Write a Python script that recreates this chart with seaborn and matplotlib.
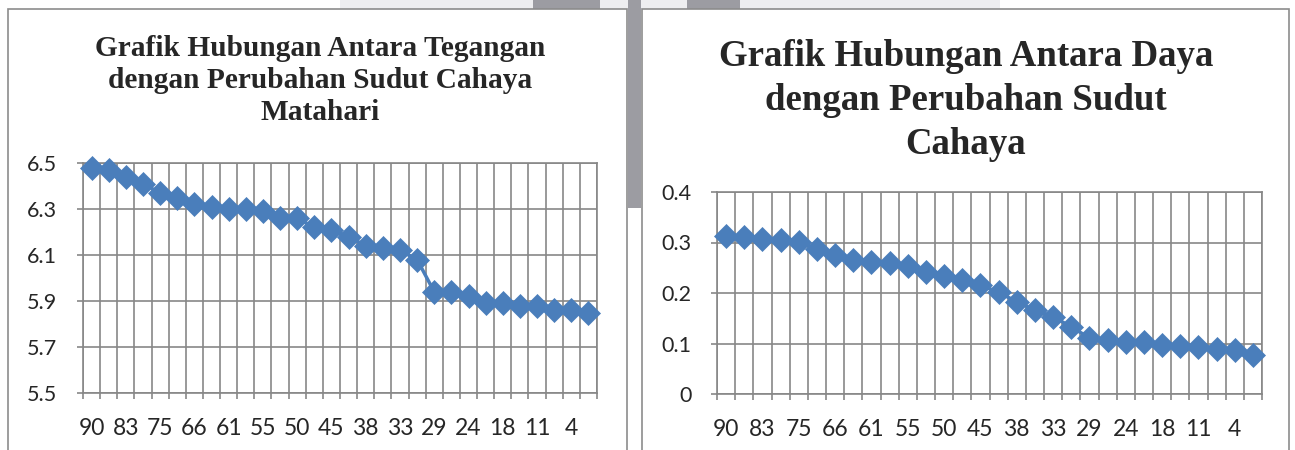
# import libraries and packages
import numpy as np
import seaborn as sns
import matplotlib.pyplot as plt
import pandas as pd
from matplotlib.patches import Rectangle

# sudut cahaya matahari (only every other label is printed on the axis)
sudut = [90, 87, 83, 79, 75, 70, 66, 63, 61, 58, 55, 52, 50, 47, 45,
         41, 38, 35, 33, 31, 29, 26, 24, 21, 18, 14, 11, 7, 4, 1]
# tegangan (V)
tegangan = [6.48, 6.47, 6.44, 6.41, 6.37, 6.35, 6.32, 6.31, 6.30, 6.30,
            6.29, 6.26, 6.26, 6.22, 6.21, 6.18, 6.14, 6.13, 6.12, 6.08,
            5.94, 5.94, 5.92, 5.89, 5.89, 5.88, 5.88, 5.86, 5.86, 5.85]
# daya (W)
daya = [0.313, 0.311, 0.307, 0.304, 0.301, 0.288, 0.276, 0.266, 0.261, 0.259,
        0.254, 0.241, 0.234, 0.226, 0.216, 0.201, 0.183, 0.166, 0.153, 0.133,
        0.111, 0.106, 0.103, 0.102, 0.098, 0.096, 0.093, 0.090, 0.088, 0.078]

judul_kiri = "Grafik Hubungan Antara Tegangan\ndengan Perubahan Sudut Cahaya\nMatahari"
judul_kanan = "Grafik Hubungan Antara Daya\ndengan Perubahan Sudut\nCahaya"
yticks_kiri = [5.5, 5.7, 5.9, 6.1, 6.3, 6.5]
ylabels_kiri = ["5.5", "5.7", "5.9", "6.1", "6.3", "6.5"]
yticks_kanan = [0, 0.1, 0.2, 0.3, 0.4]
ylabels_kanan = ["0", "0.1", "0.2", "0.3", "0.4"]

df = pd.DataFrame({'pos': np.arange(len(sudut)), 'sudut': sudut,
                   'tegangan': tegangan, 'daya': daya})

BIRU = '#4a7ebb'
ABU = '#878787'
W, H = 1295, 450

sns.set_style("white")
plt.rcParams['font.family'] = ['Lato', 'DejaVu Sans']

fig = plt.figure(figsize=(W / 100, H / 100), dpi=100)


def kotak(x0, y0, x1, y1):
    # pixel box (top-left origin) -> figure fraction rect
    return [x0 / W, 1 - y1 / H, (x1 - x0) / W, (y1 - y0) / H]


# background pieces of the scanned page
for x0, y0, x1, y1, c in [(340, 0, 1000, 9, '#eeeef0'), (533, 0, 600, 9, '#9c9ca2'),
                          (687, 0, 740, 9, '#9c9ca2'), (628, 0, 641, 208, '#9c9ca2')]:
    r = kotak(x0, y0, x1, y1)
    fig.add_artist(Rectangle((r[0], r[1]), r[2], r[3], transform=fig.transFigure,
                             facecolor=c, edgecolor='none'))
for x0, x1 in [(8, 627), (642, 1289)]:
    r = kotak(x0, 9, x1, 460)
    fig.add_artist(Rectangle((r[0], r[1]), r[2], r[3], transform=fig.transFigure,
                             facecolor='none', edgecolor='#8c8c8c', lw=1.2))


def gambar(ax, kolom, yticks, ylabels):
    sns.lineplot(data=df, x='pos', y=kolom, ax=ax, color=BIRU, linewidth=2.5,
                 marker='D', markersize=12, markeredgecolor=BIRU,
                 markeredgewidth=0.5, clip_on=False, zorder=3)
    ax.set_xlim(-0.5, len(sudut) - 0.5)
    ax.set_ylim(yticks[0], yticks[-1])
    ax.set_xticks(df['pos'][::2], [str(s) for s in sudut[::2]])
    ax.set_xticks(np.arange(-0.5, len(sudut)), minor=True)
    ax.set_yticks(yticks, ylabels)
    ax.grid(False)
    ax.grid(True, which='minor', axis='x', color=ABU, lw=1.2)
    ax.grid(True, which='major', axis='y', color=ABU, lw=1.2)
    ax.tick_params(axis='x', which='major', length=0, pad=18, labelsize=16.5)
    ax.tick_params(axis='x', which='minor', length=4.5, color=ABU, width=1.2,
                   direction='out', bottom=True)
    ax.tick_params(axis='y', length=4.5, color=ABU, width=1.2, direction='out',
                   left=True, pad=14, labelsize=15.5)
    ax.set_xlabel('')
    ax.set_ylabel('')
    for s in ax.spines.values():
        s.set_color(ABU)
        s.set_linewidth(1.2)
    ax.set_axisbelow(True)


ax1 = fig.add_axes(kotak(83, 163, 597, 393))
gambar(ax1, 'tegangan', yticks_kiri, ylabels_kiri)
ax2 = fig.add_axes(kotak(717, 192, 1262, 394))
gambar(ax2, 'daya', yticks_kanan, ylabels_kanan)

fig.text(320 / W, 1 - 35 / H, judul_kiri, ha='center', va='top', family='Liberation Serif',
         weight='bold', fontsize=21.2, linespacing=1.25)
fig.text(966 / W, 1 - 39 / H, judul_kanan, ha='center', va='top', family='Liberation Serif',
         weight='bold', fontsize=26.6, linespacing=1.33)

plt.savefig('out.png', dpi=100)
